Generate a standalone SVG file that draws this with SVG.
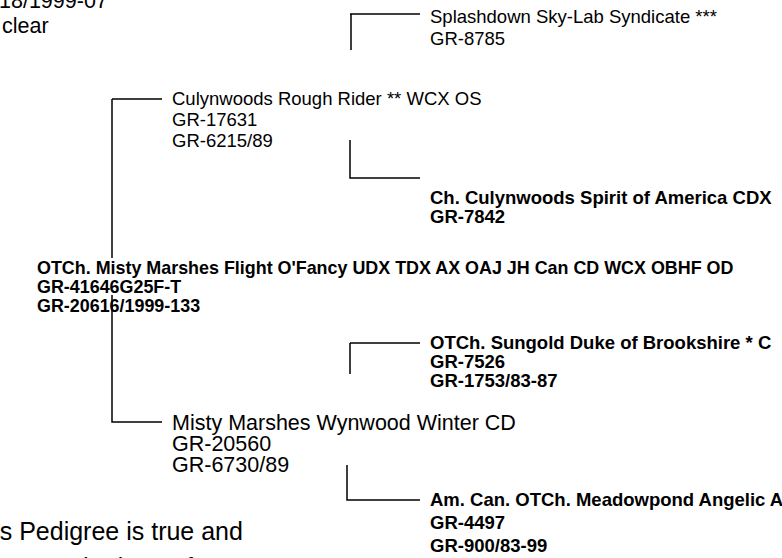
<svg xmlns="http://www.w3.org/2000/svg" width="782" height="558" viewBox="0 0 782 558">
<style>
text{font-family:"Liberation Sans",Arial,sans-serif;fill:#000}
.r{font-size:18.5px}
.b{font-size:18.5px;font-weight:bold}
.big{font-size:21.5px}
.huge{font-size:25px}
.m{font-size:17.9px;font-weight:bold}
.c{stroke:#000;stroke-width:1.5;fill:none}
</style>
<rect width="782" height="558" fill="#fff"/>
<g id="connectors" class="c">
<path d="M350,14H420M351,14V50"/>
<path d="M112,99H162M112,99V258"/>
<path d="M350,140V178H420"/>
<path d="M112,295V422H162"/>
<path d="M350,343H420M350,343V374"/>
<path d="M347,465V500H420"/>
</g>
<g id="note-top">
<text class="big" x="-1" y="8">18/1999-07</text>
<text class="big" x="2" y="33">clear</text>
</g>
<g id="n-splashdown">
<text class="r" x="430" y="23">Splashdown Sky-Lab Syndicate ***</text>
<text class="r" x="430" y="45">GR-8785</text>
</g>
<g id="n-culynwoods-rough">
<text class="r" x="172" y="105">Culynwoods Rough Rider ** WCX OS</text>
<text class="r" x="172" y="126">GR-17631</text>
<text class="r" x="172" y="147">GR-6215/89</text>
</g>
<g id="n-culynwoods-spirit">
<text class="b" x="430" y="204">Ch. Culynwoods Spirit of America CDX</text>
<text class="b" x="430" y="223">GR-7842</text>
</g>
<g id="n-main">
<text class="m" x="37" y="274">OTCh. Misty Marshes Flight O'Fancy UDX TDX AX OAJ JH Can CD WCX OBHF OD</text>
<text class="m" x="37" y="293">GR-41646G25F-T</text>
<text class="m" x="37" y="312">GR-20616/1999-133</text>
</g>
<g id="n-sungold">
<text class="b" x="430" y="349">OTCh. Sungold Duke of Brookshire * C</text>
<text class="b" x="430" y="368">GR-7526</text>
<text class="b" x="430" y="387">GR-1753/83-87</text>
</g>
<g id="n-misty-winter">
<text class="big" x="172" y="430">Misty Marshes Wynwood Winter CD</text>
<text class="big" x="172" y="451">GR-20560</text>
<text class="big" x="172" y="472">GR-6730/89</text>
</g>
<g id="n-meadowpond">
<text class="b" x="430" y="506">Am. Can. OTCh. Meadowpond Angelic A</text>
<text class="b" x="430" y="529">GR-4497</text>
<text class="b" x="430" y="552">GR-900/83-99</text>
</g>
<g id="note-bottom">
<text class="huge" x="-35" y="540">This Pedigree is true and</text>
<text class="huge" x="-35" y="576">correct to the best of my</text>
</g>
</svg>
